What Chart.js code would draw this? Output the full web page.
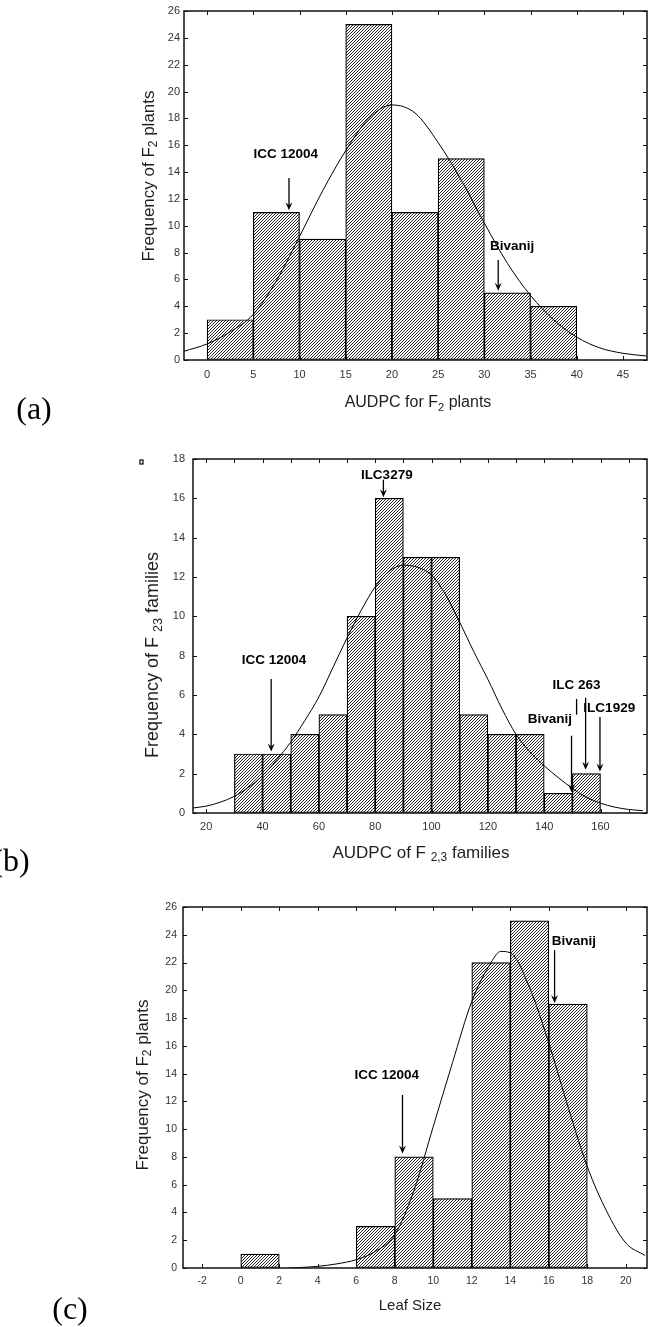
<!DOCTYPE html>
<html>
<head>
<meta charset="utf-8">
<script src="https://cdn.jsdelivr.net/npm/chart.js@4.4.0/dist/chart.umd.min.js"></script>
<style>
  html, body { margin: 0; padding: 0; background: #fff; }
  body { width: 648px; height: 1327px; position: relative; overflow: hidden; }
  canvas { position: absolute; left: 0; }
  .tag {
    position: absolute;
    font-family: "Liberation Serif", "Times New Roman", serif;
    font-size: 32px;
    line-height: 1;
    transform: translate(-50%, -50%);
    color: #000;
  }
</style>
</head>
<body>
<canvas id="chartA" width="648" height="420" style="top:0px"></canvas>
<canvas id="chartB" width="648" height="450" style="top:420px"></canvas>
<canvas id="chartC" width="648" height="457" style="top:870px"></canvas>
<div class="tag" style="left:34px;top:408px">(a)</div>
<div class="tag" style="left:11px;top:860px">(b)</div>
<div class="tag" style="left:70px;top:1308px">(c)</div>

<script>
// (a) AUDPC for F2 plants
var aCenters = [2.5, 7.5, 12.5, 17.5, 22.5, 27.5, 32.5, 37.5];
var aCounts = [3, 11, 9, 25, 11, 15, 5, 4];
var aCurveX = [-2.5, 0, 2.5, 5, 7.5, 10, 12.5, 15, 17.5, 20, 22.5, 25, 27.5, 30, 32.5, 35, 37.5, 40, 42.5, 45, 47.5];
var aCurveY = [0.65, 1.2, 2.1, 3.4, 5.9, 9.2, 12.6, 15.6, 18.0, 19.0, 18.4, 16.2, 13.4, 10.2, 7.2, 4.8, 3.0, 1.7, 0.9, 0.5, 0.3];
var aXTicks = [0, 5, 10, 15, 20, 25, 30, 35, 40, 45];
var aYTicks = [0, 2, 4, 6, 8, 10, 12, 14, 16, 18, 20, 22, 24, 26];

// (b) AUDPC of F2,3 families
var bCenters = [35, 45, 55, 65, 75, 85, 95, 105, 115, 125, 135, 145, 155];
var bCounts = [3, 3, 4, 5, 10, 16, 13, 13, 5, 4, 4, 1, 2];
var bCurveX = [15, 20, 25, 30, 35, 40, 45, 50, 55, 60, 65, 70, 75, 80, 85, 90, 95, 100, 105, 110, 115, 120, 125, 130, 135, 140, 145, 150, 155, 160, 165, 170, 175];
var bCurveY = [0.25, 0.35, 0.55, 0.85, 1.3, 1.9, 2.7, 3.6, 4.7, 5.9, 7.4, 8.9, 10.3, 11.5, 12.3, 12.6, 12.5, 12.1, 11.1, 9.7, 8.2, 6.8, 5.3, 4.0, 3.1, 2.4, 1.8, 1.25, 0.8, 0.5, 0.3, 0.18, 0.12];
var bXTicks = [20, 30, 40, 50, 60, 70, 80, 90, 100, 110, 120, 130, 140, 150, 160, 170];
var bXLabels = [20, 40, 60, 80, 100, 120, 140, 160];
var bYTicks = [0, 2, 4, 6, 8, 10, 12, 14, 16, 18];

// (c) Leaf size
var cCenters = [1, 7, 9, 11, 13, 15, 17];
var cCounts = [1, 3, 8, 5, 22, 25, 19];
var cCurveX = [2.5, 3, 4, 5, 6, 7, 8, 9, 10, 11, 12, 13, 13.5, 14, 15, 16, 17, 18, 19, 20, 21];
var cCurveY = [0, 0.03, 0.12, 0.3, 0.6, 1.2, 2.4, 5.6, 10.2, 14.8, 19.2, 22.0, 22.8, 22.7, 20.2, 16.2, 11.6, 7.3, 4.1, 1.8, 0.9];
var cXTicks = [-2, 0, 2, 4, 6, 8, 10, 12, 14, 16, 18, 20];
var cYTicks = [0, 2, 4, 6, 8, 10, 12, 14, 16, 18, 20, 22, 24, 26];

// cultivar markers: label position, arrow x, arrow from/to (data units)
var aNotes = [
  { text: 'ICC 12004', lx: 8.5, ly: 15.3, ax: 8.86, from: 13.55, to: 11.15 },
  { text: 'Bivanij', lx: 33.0, ly: 8.5, ax: 31.5, from: 7.45, to: 5.15 }
];
var bNotes = [
  { text: 'ILC3279', lx: 84.1, ly: 17.16, ax: 82.9, from: 16.95, to: 16.05 },
  { text: 'ICC 12004', lx: 44.1, ly: 7.75, ax: 43.06, from: 6.81, to: 3.13 },
  { text: 'ILC 263', lx: 151.5, ly: 6.49, ax: 154.7, from: 5.86, to: 2.2 },
  { text: 'ILC1929', lx: 163.1, ly: 5.3, ax: 159.8, from: 4.88, to: 2.11 },
  { text: 'Bivanij', lx: 142.0, ly: 4.74, ax: 149.7, from: 3.93, to: 1.05 },
  { text: '', ax: 151.5, from: 5.8, to: 5.0, noHead: true }
];
var cNotes = [
  { text: 'ICC 12004', lx: 7.58, ly: 13.9, ax: 8.40, from: 12.46, to: 8.25 },
  { text: 'Bivanij', lx: 17.3, ly: 23.52, ax: 16.30, from: 22.9, to: 19.08 }
];

var FONT = '"Liberation Sans", Arial, sans-serif';

function hatch() {
  var c = document.createElement('canvas');
  c.width = 3; c.height = 3;
  var g = c.getContext('2d');
  g.fillStyle = '#fff';
  g.fillRect(0, 0, 3, 3);
  g.strokeStyle = '#000';
  g.lineWidth = 0.85;
  g.beginPath();
  g.moveTo(0, 3); g.lineTo(3, 0);
  g.moveTo(-1, 1); g.lineTo(1, -1);
  g.moveTo(2, 4); g.lineTo(4, 2);
  g.stroke();
  return g.createPattern(c, 'repeat');
}

function richText(ctx, parts, size, x, y, vertical) {
  ctx.save();
  ctx.translate(x, y);
  if (vertical) ctx.rotate(-Math.PI / 2);
  var w = 0;
  parts.forEach(function(p) {
    ctx.font = (p.sub ? size * 0.7 : size) + 'px ' + FONT;
    p.w = ctx.measureText(p.t).width;
    w += p.w;
  });
  var cx = -w / 2;
  ctx.textAlign = 'left';
  ctx.textBaseline = 'middle';
  ctx.fillStyle = '#1e1e1e';
  parts.forEach(function(p) {
    ctx.font = (p.sub ? size * 0.7 : size) + 'px ' + FONT;
    ctx.fillText(p.t, cx, p.sub ? size * 0.3 : 0);
    cx += p.w;
  });
  ctx.restore();
}

function makePanel(id, cfg) {
  var canvas = document.getElementById(id);
  var H = canvas.height;

  var extras = {
    id: 'extras' + id,
    afterDraw: function(chart) {
      var ctx = chart.ctx;
      var a = chart.chartArea;
      var xs = chart.scales.x, ys = chart.scales.y;

      // frame with inward ticks
      ctx.save();
      ctx.strokeStyle = '#111';
      ctx.lineWidth = 1.5;
      ctx.strokeRect(a.left, a.top, a.right - a.left, a.bottom - a.top);
      ctx.lineWidth = 1;
      ctx.beginPath();
      xs.ticks.forEach(function(t) {
        var px = Math.round(xs.getPixelForValue(t.value)) + 0.5;
        ctx.moveTo(px, a.bottom); ctx.lineTo(px, a.bottom - 4);
        ctx.moveTo(px, a.top); ctx.lineTo(px, a.top + 4);
      });
      ys.ticks.forEach(function(t) {
        var py = Math.round(ys.getPixelForValue(t.value)) + 0.5;
        ctx.moveTo(a.left, py); ctx.lineTo(a.left + 4, py);
        ctx.moveTo(a.right, py); ctx.lineTo(a.right - 4, py);
      });
      ctx.stroke();

      // marker arrows and labels
      ctx.fillStyle = '#000';
      ctx.strokeStyle = '#000';
      cfg.notes.forEach(function(n) {
        var ax = xs.getPixelForValue(n.ax);
        var y1 = ys.getPixelForValue(n.from);
        var y2 = ys.getPixelForValue(n.to);
        ctx.lineWidth = 1.3;
        ctx.beginPath();
        ctx.moveTo(ax, y1);
        ctx.lineTo(ax, n.noHead ? y2 : y2 - 5);
        ctx.stroke();
        if (!n.noHead) {
          ctx.beginPath();
          ctx.moveTo(ax - 3.5, y2 - 8);
          ctx.lineTo(ax, y2 - 5);
          ctx.lineTo(ax + 3.5, y2 - 8);
          ctx.lineTo(ax, y2);
          ctx.closePath();
          ctx.fill();
        }
        if (n.text) {
          ctx.font = 'bold ' + cfg.noteSize + 'px ' + FONT;
          ctx.textAlign = 'center';
          ctx.textBaseline = 'middle';
          ctx.fillText(n.text, xs.getPixelForValue(n.lx), ys.getPixelForValue(n.ly));
        }
      });

      if (cfg.mark) {
        ctx.lineWidth = 1.2;
        ctx.strokeRect(cfg.mark.x, cfg.mark.y, 3, 4);
      }

      richText(ctx, cfg.xTitle.parts, cfg.xTitle.size, cfg.xTitle.x, cfg.xTitle.y, false);
      richText(ctx, cfg.yTitle.parts, cfg.yTitle.size, cfg.yTitle.x, cfg.yTitle.y, true);
      ctx.restore();
    }
  };

  return new Chart(canvas, {
    type: 'bar',
    data: {
      datasets: [
        {
          type: 'line',
          data: cfg.curveX.map(function(x, i) { return { x: x, y: cfg.curveY[i] }; }),
          borderColor: '#000',
          borderWidth: 1,
          pointRadius: 0,
          cubicInterpolationMode: 'monotone',
          fill: false,
          order: 0
        },
        {
          type: 'bar',
          data: cfg.centers.map(function(x, i) { return { x: x, y: cfg.counts[i] }; }),
          backgroundColor: hatch(),
          borderColor: '#000',
          borderWidth: 1.2,
          borderSkipped: false,
          barPercentage: 1,
          categoryPercentage: 1,
          order: 1
        }
      ]
    },
    options: {
      responsive: false,
      animation: false,
      devicePixelRatio: 1,
      layout: { padding: { left: 0, top: cfg.area.top, right: 648 - cfg.area.right, bottom: 0 } },
      plugins: { legend: { display: false }, tooltip: { enabled: false } },
      scales: {
        x: {
          type: 'linear',
          offset: false,
          min: cfg.xMin,
          max: cfg.xMax,
          afterBuildTicks: function(s) { s.ticks = cfg.xTicks.map(function(v) { return { value: v }; }); },
          afterFit: function(s) { s.height = H - cfg.area.bottom; },
          grid: { display: true, drawOnChartArea: false, drawTicks: false, offset: false, color: 'rgba(0,0,0,0)' },
          border: { display: false },
          ticks: {
            autoSkip: false,
            maxRotation: 0,
            padding: cfg.xPad,
            color: '#333',
            font: { family: FONT, size: cfg.tickSize },
            callback: function(v) { return cfg.xLabels.indexOf(v) >= 0 ? String(v) : ''; }
          }
        },
        y: {
          min: 0,
          max: cfg.yMax,
          afterBuildTicks: function(s) { s.ticks = cfg.yTicks.map(function(v) { return { value: v }; }); },
          afterFit: function(s) { s.width = cfg.area.left; },
          grid: { display: true, drawOnChartArea: false, drawTicks: false, color: 'rgba(0,0,0,0)' },
          border: { display: false },
          ticks: {
            autoSkip: false,
            padding: cfg.yPad,
            color: '#333',
            font: { family: FONT, size: cfg.tickSize }
          }
        }
      }
    },
    plugins: [extras]
  });
}

makePanel('chartA', {
  centers: aCenters, counts: aCounts, curveX: aCurveX, curveY: aCurveY,
  xMin: -2.5, xMax: 47.6, yMax: 26,
  xTicks: aXTicks, xLabels: aXTicks, yTicks: aYTicks,
  area: { left: 184, top: 11, right: 647, bottom: 360 },
  tickSize: 11, xPad: 8, yPad: 4, noteSize: 13.5,
  notes: aNotes,
  xTitle: { size: 16, x: 418, y: 403, parts: [{ t: 'AUDPC for F' }, { t: '2', sub: true }, { t: ' plants' }] },
  yTitle: { size: 17, x: 149, y: 176, parts: [{ t: 'Frequency of F' }, { t: '2', sub: true }, { t: ' plants' }] }
});

makePanel('chartB', {
  centers: bCenters, counts: bCounts, curveX: bCurveX, curveY: bCurveY,
  xMin: 15.3, xMax: 176.5, yMax: 18,
  xTicks: bXTicks, xLabels: bXLabels, yTicks: bYTicks,
  area: { left: 193, top: 39, right: 647, bottom: 393 },
  tickSize: 11, xPad: 7, yPad: 8, noteSize: 13.5,
  notes: bNotes,
  mark: { x: 140, y: 40 },
  xTitle: { size: 17, x: 421, y: 433, parts: [{ t: 'AUDPC of F ' }, { t: '2,3', sub: true }, { t: ' families' }] },
  yTitle: { size: 18, x: 153, y: 235, parts: [{ t: 'Frequency of F ' }, { t: '23', sub: true }, { t: ' families' }] }
});

makePanel('chartC', {
  centers: cCenters, counts: cCounts, curveX: cCurveX, curveY: cCurveY,
  xMin: -3, xMax: 21.1, yMax: 26,
  xTicks: cXTicks, xLabels: cXTicks, yTicks: cYTicks,
  area: { left: 183, top: 37, right: 647, bottom: 398 },
  tickSize: 10.5, xPad: 7, yPad: 6, noteSize: 13.5,
  notes: cNotes,
  xTitle: { size: 15, x: 410, y: 436, parts: [{ t: 'Leaf Size' }] },
  yTitle: { size: 17, x: 143, y: 215, parts: [{ t: 'Frequency of F' }, { t: '2', sub: true }, { t: ' plants' }] }
});
</script>
</body>
</html>
